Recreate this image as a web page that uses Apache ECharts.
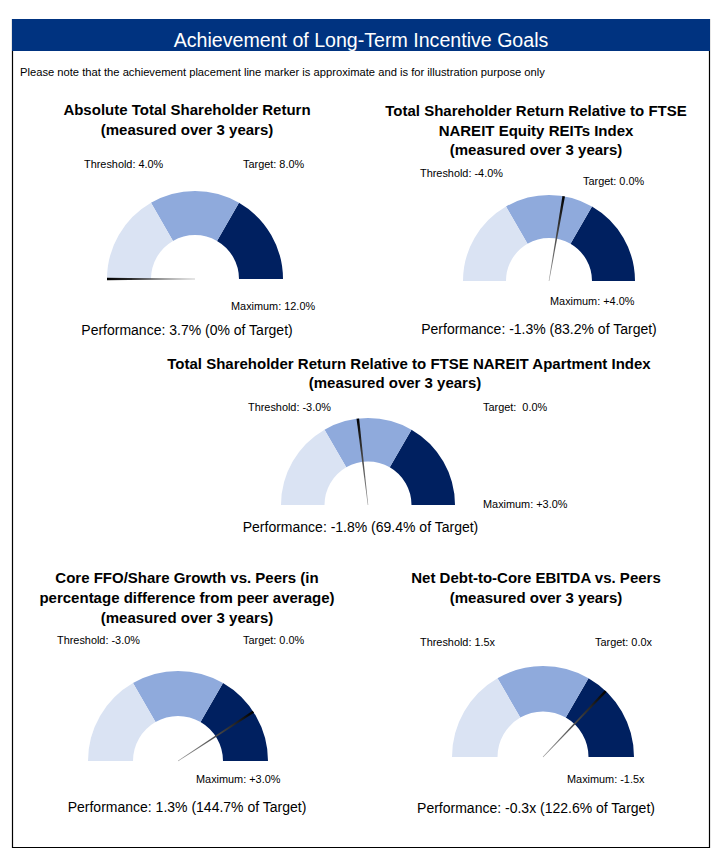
<!DOCTYPE html>
<html>
<head>
<meta charset="utf-8">
<style>
  html, body { margin: 0; padding: 0; background: #ffffff; }
  #chart { width: 728px; height: 856px; }
</style>
<script src="https://cdn.jsdelivr.net/npm/echarts@6/dist/echarts.min.js"></script>
</head>
<body>
<div id="chart"></div>
<script>
// ---------------- DATA ----------------
const mainTitle = 'Achievement of Long-Term Incentive Goals';
const noteText = 'Please note that the achievement placement line marker is approximate and is for illustration purpose only';

const gaugeTitles = [
  ['Absolute Total Shareholder Return', '(measured over 3 years)'],
  ['Total Shareholder Return Relative to FTSE', 'NAREIT Equity REITs Index', '(measured over 3 years)'],
  ['Total Shareholder Return Relative to FTSE NAREIT Apartment Index', '(measured over 3 years)'],
  ['Core FFO/Share Growth vs. Peers (in', 'percentage difference from peer average)', '(measured over 3 years)'],
  ['Net Debt-to-Core EBITDA vs. Peers', '(measured over 3 years)']
];
const thresholdLabels = ['Threshold: 4.0%', 'Threshold: -4.0%', 'Threshold: -3.0%', 'Threshold: -3.0%', 'Threshold: 1.5x'];
const targetLabels    = ['Target: 8.0%', 'Target: 0.0%', 'Target:  0.0%', 'Target: 0.0%', 'Target: 0.0x'];
const maximumLabels   = ['Maximum: 12.0%', 'Maximum: +4.0%', 'Maximum: +3.0%', 'Maximum: +3.0%', 'Maximum: -1.5x'];
const performanceValues = ['3.7%', '-1.3%', '-1.8%', '1.3%', '-0.3x'];
const pctOfTarget = [0, 83.2, 69.4, 144.7, 122.6];       // % of target achieved
// Payout % at the gauge band boundaries (start, threshold, target, maximum)
const bandBreaks = [0, 50, 100, 200];
const bandColors = ['#dae3f3', '#8faadc', '#002060'];

// ---------------- LAYOUT ----------------
const FONT = "'Liberation Sans', Arial, Helvetica, sans-serif";
// gauge centre x, baseline y, outer radius
const gaugeGeom = [[195, 279, 88], [549, 281, 86], [368, 505, 87], [178, 761, 90], [543, 757, 91]];
// title line centres [x, y] per line
const titlePos = [
  [[187, 109], [187, 129]],
  [[536, 110], [536, 130], [536, 149]],
  [[409, 363], [395, 382]],
  [[187, 577], [187, 597], [187, 617]],
  [[536, 577], [536, 597]]
];
const thresholdPos = [[84, 164], [420, 173], [248, 407], [57, 640], [420, 642]];
const targetPos    = [[243, 164], [583, 181], [483, 407], [243, 640], [595, 642]];
const maximumPos   = [[231, 306], [550, 301], [483, 504], [196, 779], [567, 779]];
const perfPos      = [[187, 330], [539, 329], [360.5, 527], [187, 807], [536, 808]];

// piecewise-linear payout scale -> gauge band units (0..3)
function toBand(p) {
  for (let i = 1; i < bandBreaks.length; i++) {
    if (p <= bandBreaks[i]) {
      return (i - 1) + (p - bandBreaks[i - 1]) / (bandBreaks[i] - bandBreaks[i - 1]);
    }
  }
  return bandBreaks.length - 1;
}

const chart = echarts.init(document.getElementById('chart'), null, { renderer: 'svg', width: 728, height: 856 });

const graphics = [
  { type: 'rect', shape: { x: 12.5, y: 19.5, width: 697, height: 828 }, style: { fill: '#fff', stroke: '#000', lineWidth: 1.2 }, z: 0 },
  { type: 'rect', shape: { x: 12, y: 19, width: 698, height: 32 }, style: { fill: '#003380' }, z: 1 },
  { type: 'text', x: 361, y: 40, z: 2, style: { text: mainTitle, fill: '#fff', font: '19.6px ' + FONT, textAlign: 'center', textVerticalAlign: 'middle' } },
  { type: 'text', x: 20, y: 72, z: 2, style: { text: noteText, fill: '#000', font: '11.2px ' + FONT, textAlign: 'left', textVerticalAlign: 'middle' } }
];

function addText(txt, x, y, font, align) {
  graphics.push({ type: 'text', x: x, y: y, z: 3, style: { text: txt, fill: '#000', font: font, textAlign: align, textVerticalAlign: 'middle' } });
}

const series = [];
gaugeTitles.forEach((lines, i) => {
  lines.forEach((ln, j) => addText(ln, titlePos[i][j][0], titlePos[i][j][1], 'bold 15px ' + FONT, 'center'));
  addText(thresholdLabels[i], thresholdPos[i][0], thresholdPos[i][1], '10.9px ' + FONT, 'left');
  addText(targetLabels[i], targetPos[i][0], targetPos[i][1], '10.9px ' + FONT, 'left');
  addText(maximumLabels[i], maximumPos[i][0], maximumPos[i][1], '10.9px ' + FONT, 'left');
  addText('Performance: ' + performanceValues[i] + ' (' + pctOfTarget[i] + '% of Target)', perfPos[i][0], perfPos[i][1], '14px ' + FONT, 'center');

  const g = gaugeGeom[i];
  series.push({
    type: 'gauge',
    center: [g[0], g[1]],
    radius: g[2],
    startAngle: 180,
    endAngle: 0,
    min: 0,
    max: bandBreaks.length - 1,
    splitNumber: 3,
    axisLine: {
      lineStyle: {
        width: g[2] / 2,
        color: bandColors.map((c, k) => [(k + 1) / bandColors.length, c])
      }
    },
    axisTick: { show: false },
    splitLine: { show: false },
    axisLabel: { show: false },
    pointer: {
      icon: 'path://M0,0L10,0L6,100L4,100Z',
      length: '100%',
      width: 2.6,
      offsetCenter: [0, 0],
      itemStyle: {
        color: { type: 'linear', x: 0, y: 0, x2: 0, y2: 1,
          colorStops: [{ offset: 0, color: '#000' }, { offset: 1, color: '#9a9a9a' }] }
      }
    },
    anchor: { show: false },
    title: { show: false },
    detail: { show: false },
    data: [{ value: toBand(pctOfTarget[i]) }]
  });
});

chart.setOption({
  animation: false,
  backgroundColor: '#ffffff',
  graphic: { elements: graphics },
  series: series
});
</script>
</body>
</html>
